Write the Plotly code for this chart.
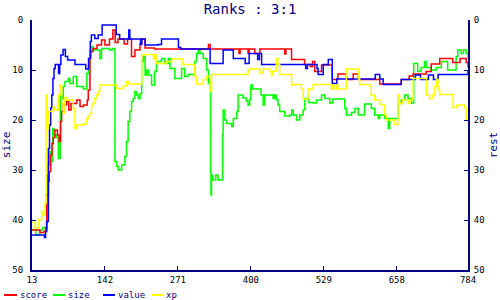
import plotly.graph_objects as go

# ---------------- data ----------------
x_ticks = [13, 142, 271, 400, 529, 658, 784]
y_ticks = [0, 10, 20, 30, 40, 50]

score_x = [13, 27, 34, 37, 39, 42, 43.6, 46, 48.3, 50.7, 53.6, 58, 61, 63.7, 65.4, 68.4, 74, 78, 82, 86, 92, 98, 104,
           110.7, 112.5, 115.5, 117, 121, 128, 136, 142, 150, 156, 160, 165, 176, 182, 189, 195, 204, 207, 213, 230,
           325, 328, 379, 381, 395, 397, 407, 416, 460, 462, 472, 495, 505, 509, 513, 525, 544, 554, 569, 581, 590,
           628, 666, 680, 687, 710, 719, 734, 757, 770, 781, 784]
score_y = [42, 42.5, 42.3, 41.5, 35, 32.3, 30.3, 27, 24.7, 23.5, 22, 23, 24.3, 20.3, 18.3, 17, 16.3, 18, 16.7, 16.7, 16,
           17.3, 17, 16, 14, 7.7, 6.3, 5.7, 5, 4, 5, 3.8, 2, 4.5, 3.8, 4.8, 3.8, 7.3, 6, 4.8, 3.8, 5.6, 5.8,
           4.9, 5.8, 6.7, 5.8, 6.7, 5.8, 6.7, 5.8, 6.8, 5.8, 7.9, 8.9, 9.3, 8.3, 10.3, 9, 11.9, 10.8, 11.9, 10.8, 11.9,
           12.8, 11.9, 11.2, 10.8, 10.3, 8.8, 7.7, 8.5, 7.7, 8.5, 9.5]

size_x = [13, 20, 27, 32, 37, 39, 40, 42, 43.6, 46, 49.5, 52, 56, 59.5, 63, 66, 68.4, 71.3, 77, 80, 86, 92, 104, 109.6,
          112.5, 115.5, 118.4, 121, 133, 136, 150, 155, 159.7, 163, 165.5, 171.5, 177.3, 180, 183, 186, 189, 192, 195,
          198, 201, 204, 207, 210, 213, 216, 219, 224.5, 230, 233, 242, 248, 254, 257, 265.7, 277.5, 283, 289, 301,
          304, 307, 310, 315.7, 321.7, 325, 328.8, 329.5, 330.5, 333, 338, 342, 350, 351, 354, 357, 366, 369, 375,
          377.5, 386, 392, 395, 398, 400, 403, 414, 418, 421.7, 424.7, 439.4, 442, 445, 448, 451, 460, 469, 472, 475,
          480.7, 486.6, 492.5, 495.5, 502, 510, 516, 525, 531, 539.5, 545, 551, 566, 569, 578, 584, 590, 601, 613,
          619, 625, 628, 637, 643, 645.6, 660, 666, 672, 678, 684, 688, 695, 701, 707, 710, 718, 728, 737, 748, 757,
          763, 766, 772, 776, 781, 784]
size_y = [42, 43, 42, 41.5, 42, 40.5, 31, 29, 26.3, 28.3, 21.7, 23, 23.5, 27.7, 15, 15.7, 13.3, 12.3, 11.7, 12.7, 11.3,
          13.3, 13.8, 10.7, 9.3, 6.3, 5.3, 6, 7.7, 5.7, 6, 5.7, 28.3, 29.3, 30, 29, 27.3, 24.3, 20.3, 18.3, 16.3, 15.7,
          14.3, 15, 15.7, 14.7, 8.3, 7.3, 11, 10, 11, 13, 10.3, 8.3, 7.7, 8.7, 7.7, 9.7, 11.7, 9.7, 11.3, 10.9, 8.3,
          6.7, 5.8, 6.7, 7.7, 10, 12.7, 30.3, 35, 31, 32, 31, 32, 23, 18, 20, 20.7, 21.3, 19.7, 18.3,
          15, 15.6, 16.2, 17, 15.9, 13, 13.8, 13.8, 15, 17, 15, 15.7, 15, 16, 17, 18.3, 19.2, 19, 18, 19,
          20, 19, 18, 15.7, 16.5, 16.6, 16, 15, 15.7, 16.6, 15.8, 15.8, 17.7, 19, 18.5, 17.7, 19, 16.8, 17.7,
          19, 19.7, 19, 19.7, 21.7, 19.7, 16.7, 16, 15, 15.7, 16.6, 8.7, 10.3, 9.5, 8.3, 9.5, 10, 9.5, 8.3, 10, 10,
          7.3, 6, 6.7, 6, 6.7, 7.5]

value_x = [13, 33, 35, 37, 39, 41, 42, 44, 46, 48, 50, 52, 54, 58, 60, 62, 64, 68, 72, 76, 82, 89, 105, 108, 113, 116,
           118, 124, 130, 137, 160, 162, 168, 180, 184, 186, 203, 205, 207, 213, 228, 236, 242, 270, 272, 276, 327,
           328, 350, 351, 368, 369, 390, 397, 412, 415, 419, 495, 497, 500, 517, 519, 528, 537, 544, 552, 619, 620,
           628, 634, 663, 666, 690, 691, 700, 713, 714, 722, 723, 730, 731, 782, 784]
value_y = [43, 43, 43.5, 42.3, 40.3, 40.3, 25.7, 21, 17.6, 15, 11.7, 9.7, 8.9, 8.9, 10.7, 8.9, 7, 5.9, 7.3, 8, 8, 8.9,
           8.9, 9.8, 7.7, 4.3, 3, 3.7, 3, 1, 1, 2.9, 3.8, 3.8, 2, 3.8, 3.8, 4.9, 3.8, 5, 5, 4.9, 3.8, 3.8, 5.5, 5.8,
           5.8, 8.7, 8.7, 6, 6, 7.7, 8.7, 6.7, 7.9, 6.7, 8.9, 8.9, 9.7, 8.9, 9.7, 10.9, 8.9, 7.9, 12.7, 11.8, 11.8,
           10.9, 11.8, 12.9, 12.9, 11.9, 11.9, 11, 11.9, 11.9, 11, 11, 11.9, 11.9, 10.9, 10.9, 10]

xp_x = [13, 18.3, 24, 30, 33, 36, 38, 40, 42, 50.7, 53, 59.5, 62.5, 65.4, 68.4, 71.3, 74.3, 86, 89, 92, 104, 109.6,
        112, 115, 118.4, 121, 124.3, 127.3, 130, 133, 162.7, 174, 180, 183, 207, 213, 228, 230, 233, 251, 260, 280,
        301, 304, 315.7, 321, 327.5, 330.5, 395, 398, 416, 422, 433.6, 436.5, 439.4, 445, 448, 451, 472, 475,
        489.5, 492.5, 501, 510, 513, 542.5, 545, 549, 552, 554, 569, 590, 592.5, 610, 613, 619, 628, 637, 640,
        654.5, 660, 663, 669, 678, 681, 687, 710.5, 716, 722, 725, 728, 731, 734, 757.5, 763.5, 778, 781, 784]
xp_y = [40.5, 41.6, 40, 38.3, 39, 36.7, 15, 21.7, 18.3, 17.3, 18, 15, 13, 16.7, 18.7, 15.5, 16, 17.7, 21.7, 21, 20.8,
        19.7, 19.3, 18.7, 17.3, 16.7, 15.7, 15, 14.3, 13, 13.7, 13.2, 12.3, 12.8, 7, 6.9, 7.8, 6.9, 8.7, 8.3, 7.8,
        8.9, 11.3, 12.8, 12, 11.3, 14.3, 10.9, 10, 9.8, 10.6, 9.8, 10.3, 11, 10.2, 7.7, 8.9, 10.9, 13, 12.9,
        13.8, 15.8, 13.8, 13, 12.9, 13.8, 13, 13.8, 13, 13.8, 9.8, 11.8, 12.9, 13.3, 15, 16, 16.9, 19, 20,
        20.9, 15, 16.7, 16, 16.7, 16, 11.7, 15, 15.7, 15, 13.3, 11.9, 14, 14.9, 17.5, 17, 17.5, 20, 20]

series = [
    ("score", score_x, score_y, "#ff0000", "y2"),
    ("size", size_x, size_y, "#00ff00", "y"),
    ("value", value_x, value_y, "#0000ff", "y2"),
    ("xp", xp_x, xp_y, "#ffff00", "y2"),
]

# ---------------- figure ----------------
NAVY = "#000080"
FONT = "DejaVu Sans Mono"
W, H = 500, 300
ML, MR, MT, MB = 32, 32, 20, 30
PW, PH = W - ML - MR, H - MT - MB

fig = go.Figure()
for name, xs, ys, col, ax in series:
    fig.add_trace(go.Scatter(x=xs, y=ys, name=name, mode="lines", yaxis=ax,
                             line=dict(color=col, width=1.5, shape="hv"), showlegend=False))

def px2paper(px, py):
    return (px - ML) / PW, (MT + PH - py) / PH

# manual legend (lines + labels)
legend_pos = [(4, 17, 20), (53, 65, 68), (103, 115, 118), (152, 163, 166)]
for (name, _, _, col, _), (x0, x1, xt) in zip(series, legend_pos):
    a0, b = px2paper(x0, 295)
    a1, _ = px2paper(x1, 295)
    fig.add_shape(type="line", xref="paper", yref="paper", x0=a0, x1=a1, y0=b, y1=b,
                  line=dict(color=col, width=2))
    at, _ = px2paper(xt, 295)
    fig.add_annotation(xref="paper", yref="paper", x=at, y=b, text=name, showarrow=False,
                       xanchor="left", yanchor="middle", xshift=-2,
                       font=dict(family=FONT, size=9, color=NAVY))

axis_common = dict(showgrid=False, zeroline=False, showline=True, linecolor=NAVY, linewidth=2,
                   ticks="inside", ticklen=4, tickcolor=NAVY, tickwidth=1, automargin=False,
                   tickfont=dict(family=FONT, size=9, color="black"))

fig.update_layout(
    width=W, height=H, margin=dict(l=ML, r=MR, t=MT, b=MB),
    paper_bgcolor="white", plot_bgcolor="white",
    title=dict(text="Ranks : 3:1", x=0.5, xref="paper", xanchor="center", y=1 - 9 / H, yref="container",
               yanchor="middle", font=dict(family=FONT, size=14, color=NAVY)),
    xaxis=dict(range=[13, 784], tickvals=x_ticks, ticktext=[str(v) for v in x_ticks], **axis_common),
    yaxis=dict(range=[50, 0], tickvals=y_ticks, ticklabelstandoff=5,
               title=dict(text="size", standoff=2, font=dict(family=FONT, size=11, color=NAVY)), **axis_common),
    yaxis2=dict(range=[50, 0], tickvals=y_ticks, overlaying="y", side="right", ticklabelstandoff=2,
                title=dict(text="rest", standoff=12, font=dict(family=FONT, size=11, color=NAVY)), **axis_common),
)

fig.write_html("out.html")
